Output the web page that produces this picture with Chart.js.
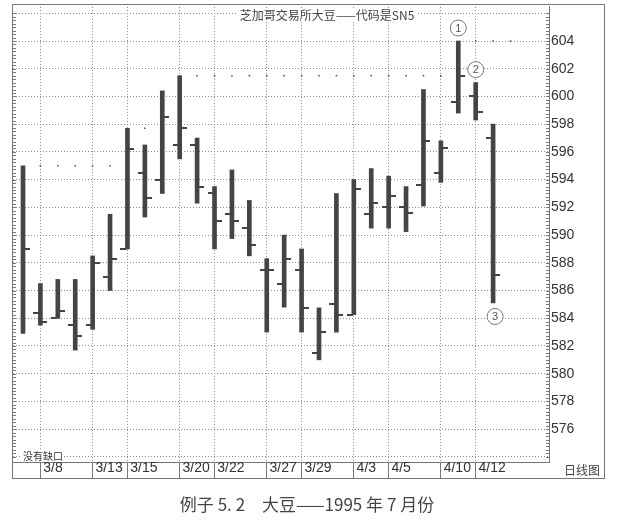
<!DOCTYPE html>
<html>
<head>
<meta charset="utf-8">
<script src="https://cdn.jsdelivr.net/npm/chart.js@4.4.1/dist/chart.umd.min.js"></script>
<style>
  body { margin: 0; background: #fff; }
  #wrap { position: relative; width: 632px; height: 526px; }
</style>
</head>
<body>
<div id="wrap"><canvas id="chart" width="632" height="526"></canvas></div>
<script>
// trading days, 3/7 .. 4/13 1995
const days = ['3/7','3/8','3/9','3/10','3/13','3/14','3/15','3/16','3/17','3/20',
              '3/21','3/22','3/23','3/24','3/27','3/28','3/29','3/30','3/31','4/3',
              '4/4','4/5','4/6','4/7','4/10','4/11','4/12','4/13'];
const opens  = [null, 584.4, 584.0, 583.5, 583.5, 587.0, 589.0, 594.5, 594.0, 596.5,
                596.5, 593.0, 591.5, 590.5, 587.5, 586.5, 587.5, 581.5, 585.0, 584.25,
                591.5, 592.0, 592.0, 593.6, 594.5, 599.6, 600.0, 597.0];
const highs  = [595.0, 586.5, 586.8, 586.8, 588.5, 591.5, 597.7, 596.5, 600.4, 601.5,
                597.0, 593.5, 594.7, 592.5, 588.3, 590.0, 589.0, 584.75, 593.0, 594.0,
                594.8, 594.25, 593.5, 600.5, 596.8, 604.0, 601.0, 598.0];
const lows   = [582.9, 583.5, 584.0, 581.7, 583.2, 586.0, 589.0, 591.3, 593.0, 595.5,
                592.3, 589.0, 589.75, 588.5, 583.0, 584.8, 583.0, 581.0, 583.0, 584.25,
                590.5, 590.5, 590.25, 592.1, 593.8, 598.8, 598.3, 585.1];
const closes = [589.0, 583.7, 584.5, 582.7, 588.0, 588.3, 596.2, 592.7, 598.5, 597.7,
                593.5, 591.0, 591.0, 589.3, 587.5, 588.3, 584.75, 583.0, 584.25, 593.3,
                592.3, 592.8, 591.6, 596.8, 596.3, 601.5, 598.85, 587.1];

// dotted "high not yet broken" markers
const markDay = [1, 2, 3, 4, 5, 7, 10, 11, 12, 13, 14, 15, 16, 17, 18, 19, 20, 21, 22, 23, 24, 26, 27, 28];
const markVal = [595, 595, 595, 595, 595, 597.7, 601.5, 601.5, 601.5, 601.5, 601.5, 601.5, 601.5,
                 601.5, 601.5, 601.5, 601.5, 601.5, 601.5, 601.5, 601.5, 604, 604, 604];

// labelled days on the date strip
const dateTickDay = [1, 4, 6, 9, 11, 14, 16, 19, 21, 24, 26];
const dateTickText = ['3/8','3/13','3/15','3/20','3/22','3/27','3/29','4/3','4/5','4/10','4/12'];

const yTicks = [574, 576, 578, 580, 582, 584, 586, 588, 590, 592, 594, 596, 598, 600, 602, 604, 606];

// circled notes: day index, anchored at high or low
const notes = [{ n: '1', day: 25, at: 'high' }, { n: '2', day: 26, at: 'high' }, { n: '3', day: 27, at: 'low' }];

const ink = '#444';

function tickMark(left) {
    const c = document.createElement('canvas');
    c.width = 14; c.height = 2;
    const g = c.getContext('2d');
    g.fillStyle = ink;
    if (left) g.fillRect(0, 0, 6, 2); else g.fillRect(8, 0, 6, 2);
    return c;
}

const barData = days.map((d, i) => ({ x: i, y: [lows[i], highs[i]] }));
const openData = days.map((d, i) => ({ x: i, y: opens[i] })).filter(p => p.y !== null);
const closeData = days.map((d, i) => ({ x: i, y: closes[i] }));
const markData = markDay.map((d, i) => ({ x: d, y: markVal[i] }));

const extras = {
    id: 'extras',
    afterDraw(chart) {
        const ctx = chart.ctx;
        const a = chart.chartArea;
        const xs = chart.scales.x, ys = chart.scales.y;
        ctx.save();

        // minor ticks inside both vertical axes
        ctx.strokeStyle = '#777';
        ctx.lineWidth = 1;
        ctx.beginPath();
        for (let v = 574; v <= 606.01; v += 0.25) {
            const y = Math.round(ys.getPixelForValue(v)) + 0.5;
            if (y < a.top || y > a.bottom) continue;
            ctx.moveTo(a.left, y); ctx.lineTo(a.left + 3, y);
            ctx.moveTo(a.right - 3, y); ctx.lineTo(a.right, y);
        }
        ctx.stroke();

        // outer frame
        ctx.strokeStyle = '#777';
        ctx.strokeRect(12.5, 4.5, 592, 474);

        // title
        ctx.font = '12px "Noto Sans CJK SC"';
        ctx.textBaseline = 'middle';
        ctx.textAlign = 'center';
        const title = '芝加哥交易所大豆——代码是SN5';
        const tw = ctx.measureText(title).width;
        ctx.fillStyle = '#fff';
        ctx.fillRect(327 - tw / 2 - 3, 8, tw + 6, 14);
        ctx.fillStyle = '#444';
        ctx.fillText(title, 327, 15);

        // no-gap note
        ctx.font = '10px "Noto Sans CJK SC"';
        ctx.textAlign = 'left';
        const nw = ctx.measureText('没有缺口').width;
        ctx.fillStyle = '#fff';
        ctx.fillRect(21, 450, nw + 3, 11);
        ctx.fillStyle = '#333';
        ctx.fillText('没有缺口', 23, 456);

        // strip label
        ctx.font = '12px "Noto Sans CJK SC"';
        ctx.fillStyle = '#444';
        ctx.textAlign = 'right';
        ctx.fillText('日线图', 600, 470);

        // circled notes
        ctx.font = '11px "Liberation Sans"';
        ctx.textAlign = 'center';
        notes.forEach(o => {
            const x = xs.getPixelForValue(o.day) + (o.at === 'low' ? 2 : 0);
            const y = o.at === 'high' ? ys.getPixelForValue(highs[o.day]) - 13 : ys.getPixelForValue(lows[o.day]) + 13.5;
            ctx.beginPath();
            ctx.arc(x, y, 8, 0, Math.PI * 2);
            ctx.fillStyle = '#fff';
            ctx.fill();
            ctx.strokeStyle = '#777';
            ctx.stroke();
            ctx.fillStyle = '#555';
            ctx.fillText(o.n, x, y + 0.5);
        });

        // caption
        ctx.font = '17px "Noto Sans CJK SC"';
        ctx.fillStyle = '#444';
        ctx.textAlign = 'center';
        ctx.fillText('例子 5. 2　大豆——1995 年 7 月份', 307, 505);
        ctx.restore();
    }
};

new Chart(document.getElementById('chart'), {
    type: 'bar',
    data: {
        datasets: [
            { type: 'bar', data: barData, backgroundColor: ink, barThickness: 4, order: 3 },
            { type: 'scatter', data: openData, pointStyle: tickMark(true), order: 2 },
            { type: 'scatter', data: closeData, pointStyle: tickMark(false), order: 2 },
            { type: 'scatter', data: markData, pointStyle: 'rect', pointRadius: 1.1,
              backgroundColor: '#555', borderWidth: 0, order: 1 },
        ]
    },
    options: {
        responsive: false,
        animation: false,
        events: [],
        layout: { padding: { left: 13, top: 5, right: 0, bottom: 48 } },
        plugins: { legend: { display: false }, tooltip: { enabled: false } },
        scales: {
            x: {
                type: 'linear',
                offset: false,
                min: -0.574,
                max: 30.21,
                afterFit: s => { s.height = 16; },
                afterBuildTicks: s => { s.ticks = dateTickDay.map(v => ({ value: v })); },
                border: { color: '#777', dash: [1, 2] },
                grid: {
                    offset: false,
                    color: '#8a8a8a',
                    tickLength: 16,
                    tickColor: '#777',
                    tickBorderDash: [],
                },
                ticks: {
                    autoSkip: false,
                    maxRotation: 0,
                    align: 'start',
                    padding: -15,
                    color: '#333',
                    font: { family: '"Liberation Sans", Arial', size: 14, lineHeight: 0.7 },
                    callback: v => '\u2009' + dateTickText[dateTickDay.indexOf(v)],
                }
            },
            y: {
                position: 'right',
                min: 573.63,
                max: 606.46,
                afterFit: s => { s.width = 83; },
                afterBuildTicks: s => { s.ticks = yTicks.map(v => ({ value: v })); },
                border: { color: '#777', dash: [1, 2] },
                grid: { color: '#8a8a8a', drawTicks: false },
                ticks: {
                    padding: 2,
                    color: '#333',
                    font: { family: '"Liberation Sans", Arial', size: 14, lineHeight: 0.7 },
                    callback: v => (v === 574 || v === 606) ? '' : String(v),
                }
            }
        }
    },
    plugins: [extras]
});
</script>
</body>
</html>
